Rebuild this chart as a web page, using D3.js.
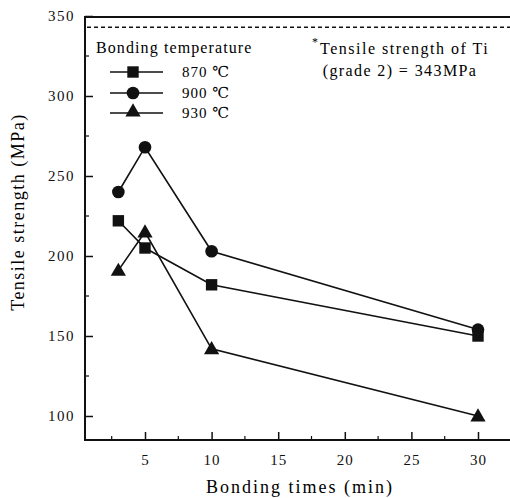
<!DOCTYPE html>
<html>
<head>
<meta charset="utf-8">
<script src="https://cdn.jsdelivr.net/npm/d3@7"></script>
<style>
body{margin:0;background:#fff;}
</style>
</head>
<body>
<div id="chartDiv"></div>
<script>
// data
var times=[3,5,10,30];
var temps=["870 \u2103","900 \u2103","930 \u2103"];
var strength870=[222,205,182,150];
var strength900=[240,268,203,154];
var strength930=[191,215,142,100];
var xTicks=[5,10,15,20,25,30];
var yTicks=[100,150,200,250,300,350];
var tiStrength=343;

var serif="'Liberation Serif','Times New Roman',Tinos,'DejaVu Serif',serif";

var width=510,height=498;
var svg=d3.select("#chartDiv").append("svg")
    .attr("width",width)
    .attr("height",height)
    .style("font-family",serif);

var xScale=d3.scaleLinear().domain([0,30]).range([78.4,478]);
var yScale=d3.scaleLinear().domain([100,350]).range([416,16]);

var plotLeft=85,plotBottom=440,plotTop=17,plotRight=512;

//minor ticks
var xMinor=d3.range(2.5,33,2.5).filter(function(d){return xTicks.indexOf(d)<0;});
var yMinor=d3.range(100,350,25).filter(function(d){return yTicks.indexOf(d)<0;});

var xAxis=d3.axisBottom(xScale).tickValues(xTicks).tickSize(-8).tickPadding(14).tickFormat(d3.format("d"));
var gx=svg.append("g").attr("transform","translate(0,"+plotBottom+")").call(xAxis);
gx.select(".domain").remove();
gx.attr("font-family",null);
gx.selectAll("line").attr("stroke","#111").attr("stroke-width",1.5);
gx.selectAll("text").style("font-family",serif).style("font-size","15px").style("letter-spacing","1px").attr("fill","#111");

svg.append("g").selectAll("line").data(xMinor).enter().append("line")
    .attr("x1",function(d){return xScale(d);})
    .attr("x2",function(d){return xScale(d);})
    .attr("y1",plotBottom).attr("y2",plotBottom-4)
    .attr("stroke","#111").attr("stroke-width",1.2);

var yAxis=d3.axisLeft(yScale).tickValues(yTicks).tickSize(-8).tickPadding(10);
var gy=svg.append("g").attr("transform","translate("+plotLeft+",0)").call(yAxis);
gy.select(".domain").remove();
gy.attr("font-family",null);
gy.selectAll("line").attr("stroke","#111").attr("stroke-width",1.5);
gy.selectAll("text").style("font-family",serif).style("font-size","15px").style("letter-spacing","1.5px").attr("fill","#111");

svg.append("g").selectAll("line").data(yMinor).enter().append("line")
    .attr("x1",plotLeft).attr("x2",plotLeft+4)
    .attr("y1",function(d){return yScale(d);})
    .attr("y2",function(d){return yScale(d);})
    .attr("stroke","#111").attr("stroke-width",1.2);

//frame
svg.append("path")
    .attr("d","M"+plotRight+","+plotTop+"H"+plotLeft+"V"+plotBottom+"H"+plotRight)
    .attr("fill","none").attr("stroke","#111").attr("stroke-width",2);

//Ti reference line
svg.append("line")
    .attr("x1",plotLeft+2).attr("x2",plotRight)
    .attr("y1",yScale(tiStrength)).attr("y2",yScale(tiStrength))
    .attr("stroke","#111").attr("stroke-width",1.6)
    .attr("stroke-dasharray","4,3");

var series=[strength870,strength900,strength930];
var symbols=[d3.symbolSquare,d3.symbolCircle,d3.symbolTriangle];
var symSize=[130,125,100];

var line=d3.line()
    .x(function(d,i){return xScale(times[i]);})
    .y(function(d){return yScale(d);});

series.forEach(function(s,k){
    svg.append("path").datum(s)
      .attr("d",line)
      .attr("fill","none")
      .attr("stroke","#111")
      .attr("stroke-width",1.6);
    svg.selectAll("sym"+k).data(s).enter().append("path")
      .attr("d",d3.symbol().type(symbols[k]).size(symSize[k]))
      .attr("transform",function(d,i){
          var dy=k==2?1:0;
          return "translate("+xScale(times[i])+","+(yScale(d)+dy)+")";
      })
      .attr("fill","#111");
});

//legend
var legend=svg.append("g");
legend.append("text")
    .attr("x",96).attr("y",53)
    .style("font-size","16px")
    .style("letter-spacing","1.1px")
    .text("Bonding temperature");
var rowY=[72,93,113];
temps.forEach(function(t,k){
    legend.append("line")
      .attr("x1",110).attr("x2",163)
      .attr("y1",rowY[k]).attr("y2",rowY[k])
      .attr("stroke","#111").attr("stroke-width",1.3);
    legend.append("path")
      .attr("d",d3.symbol().type(symbols[k]).size(symSize[k]))
      .attr("transform","translate(133,"+(rowY[k]+(k==2?-1:0))+")")
      .attr("fill","#111");
    legend.append("text")
      .attr("x",182).attr("y",rowY[k]+5)
      .style("font-size","15px")
      .style("letter-spacing","1px")
      .text(t);
});

//annotation
svg.append("text")
    .attr("x",312).attr("y",46)
    .style("font-size","12px")
    .text("*");
svg.append("text")
    .attr("x",320).attr("y",54)
    .style("font-size","16px")
    .style("letter-spacing","1.5px")
    .text("Tensile strength of Ti");
svg.append("text")
    .attr("x",400).attr("y",76)
    .attr("text-anchor","middle")
    .style("font-size","16px")
    .style("letter-spacing","1.4px")
    .text("(grade 2) = "+tiStrength+"MPa");

//axis titles
svg.append("text")
    .attr("x",300).attr("y",493)
    .attr("text-anchor","middle")
    .style("font-size","18px")
    .style("letter-spacing","2px")
    .text("Bonding times (min)");
svg.append("text")
    .attr("transform","translate(24,212) rotate(-90)")
    .attr("text-anchor","middle")
    .style("font-size","18px")
    .style("letter-spacing","1.5px")
    .text("Tensile strength (MPa)");
</script>
</body>
</html>
